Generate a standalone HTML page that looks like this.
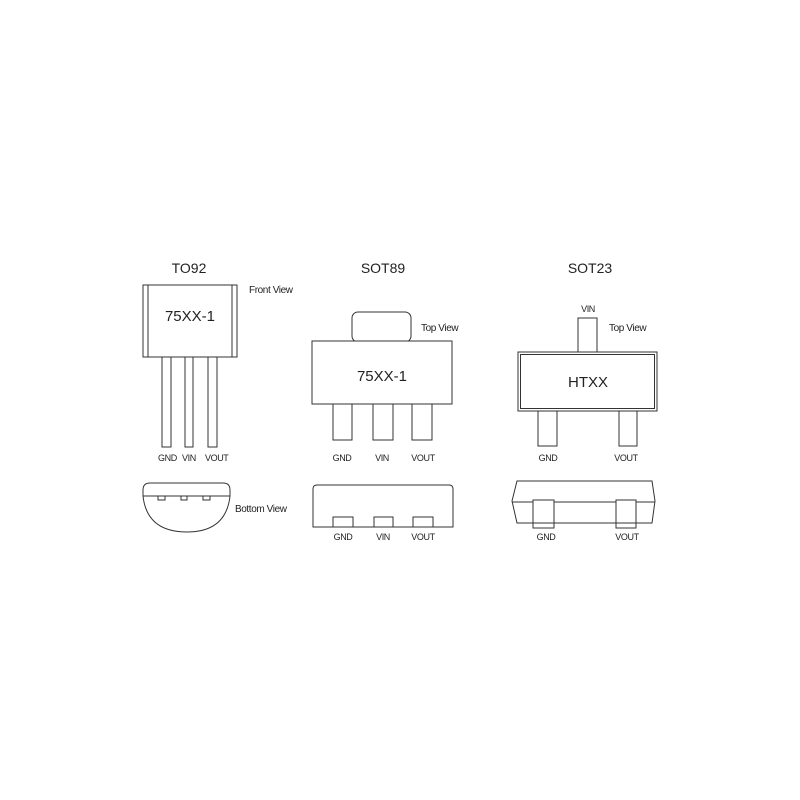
<!DOCTYPE html>
<html><head><meta charset="utf-8"><style>
html,body{margin:0;padding:0;background:#fff}
svg{display:block}
text{font-family:"Liberation Sans",sans-serif;fill:#222}
.t{font-size:14px}
.s{font-size:9px;letter-spacing:-0.4px}
.v{font-size:10px;letter-spacing:-0.4px}
.m{font-size:15px}
</style></head><body>
<svg width="800" height="800" viewBox="0 0 800 800" fill="none" stroke="#333" stroke-width="1">
<!-- TO92 -->
<text class="t" x="189" y="273" text-anchor="middle" stroke="none">TO92</text>
<text class="v" x="249" y="293" stroke="none">Front View</text>
<rect x="143" y="285" width="94" height="72"/>
<line x1="148" y1="285" x2="148" y2="357"/>
<line x1="232" y1="285" x2="232" y2="357"/>
<text class="m" x="190" y="321" text-anchor="middle" stroke="none">75XX-1</text>
<rect x="162" y="357" width="9" height="90"/>
<rect x="185" y="357" width="8" height="90"/>
<rect x="208" y="357" width="9" height="90"/>
<text class="s" x="158" y="461" stroke="none">GND</text>
<text class="s" x="182" y="461" stroke="none">VIN</text>
<text class="s" x="205" y="461" stroke="none">VOUT</text>
<path d="M143,496 L143,490 Q143,483 150,483 L223,483 Q230,483 230,490 L230,496 Q226,532 187,532 Q147,532 143,496 Z"/>
<line x1="143" y1="496" x2="230" y2="496"/>
<rect x="158" y="496" width="7" height="4"/>
<rect x="181" y="496" width="6" height="4"/>
<rect x="203" y="496" width="7" height="4"/>
<text class="v" x="235" y="512" stroke="none">Bottom View</text>
<!-- SOT89 -->
<text class="t" x="383" y="273" text-anchor="middle" stroke="none">SOT89</text>
<rect x="352" y="312" width="59" height="30" rx="6"/>
<text class="v" x="421" y="331" stroke="none">Top View</text>
<rect x="312" y="341" width="140" height="63" fill="#fff"/>
<text class="m" x="382" y="381" text-anchor="middle" stroke="none">75XX-1</text>
<rect x="333" y="404" width="19" height="36"/>
<rect x="373" y="404" width="20" height="36"/>
<rect x="412" y="404" width="20" height="36"/>
<text class="s" x="342" y="461" text-anchor="middle" stroke="none">GND</text>
<text class="s" x="382" y="461" text-anchor="middle" stroke="none">VIN</text>
<text class="s" x="423" y="461" text-anchor="middle" stroke="none">VOUT</text>
<path d="M313,527 L313,489 Q313,485 317,485 L449,485 Q453,485 453,489 L453,527 Z"/>
<rect x="333" y="517" width="20" height="10"/>
<rect x="374" y="517" width="19" height="10"/>
<rect x="413" y="517" width="20" height="10"/>
<text class="s" x="343" y="540" text-anchor="middle" stroke="none">GND</text>
<text class="s" x="383" y="540" text-anchor="middle" stroke="none">VIN</text>
<text class="s" x="423" y="540" text-anchor="middle" stroke="none">VOUT</text>
<!-- SOT23 -->
<text class="t" x="590" y="273" text-anchor="middle" stroke="none">SOT23</text>
<text class="s" x="588" y="312" text-anchor="middle" stroke="none">VIN</text>
<text class="v" x="609" y="331" stroke="none">Top View</text>
<rect x="578" y="318" width="19" height="34"/>
<rect x="518" y="352" width="139" height="59"/>
<rect x="520.5" y="354.5" width="134" height="54"/>
<text class="t" x="588" y="387" text-anchor="middle" stroke="none" style="font-size:15px">HTXX</text>
<rect x="538" y="411" width="19" height="35"/>
<rect x="619" y="411" width="18" height="35"/>
<text class="s" x="548" y="461" text-anchor="middle" stroke="none">GND</text>
<text class="s" x="626" y="461" text-anchor="middle" stroke="none">VOUT</text>
<path d="M517,481 L652,481 L655,501 L652,523 L517,523 L512,501 Z"/>
<line x1="512" y1="502" x2="655" y2="502"/>
<rect x="533" y="500" width="21" height="28" fill="#fff"/>
<line x1="533" y1="523" x2="554" y2="523"/>
<rect x="616" y="500" width="20" height="28" fill="#fff"/>
<line x1="616" y1="523" x2="636" y2="523"/>
<text class="s" x="546" y="540" text-anchor="middle" stroke="none">GND</text>
<text class="s" x="627" y="540" text-anchor="middle" stroke="none">VOUT</text>
</svg>
</body></html>
